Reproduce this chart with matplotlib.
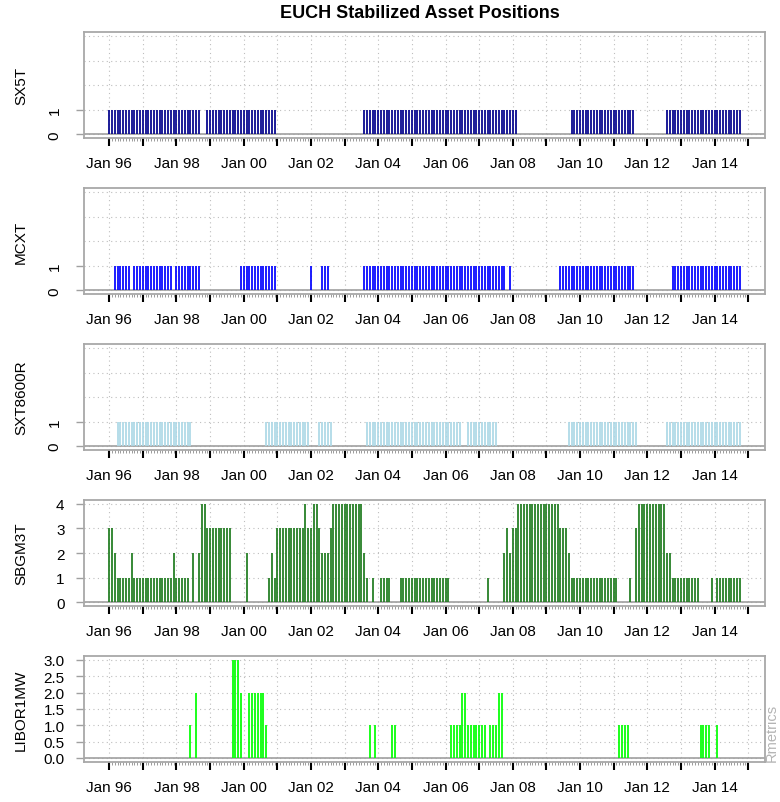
import numpy as np
import pandas as pd
import matplotlib
matplotlib.use("Agg")
import matplotlib.pyplot as plt
from matplotlib.ticker import FixedLocator

plt.rcParams['font.family'] = ['Liberation Sans', 'DejaVu Sans']

title = "EUCH Stabilized Asset Positions"
start, end = "1996-01", "2014-10"
assets = ["SX5T", "MCXT", "SXT8600R", "SBGM3T", "LIBOR1MW"]
colors = ["#00008B", "#0000FF", "#ADD8E6", "#1E7B1E", "#00FF00"]

# runs of non-zero positions: (first month, last month, value)
sx5t_runs = [("1996-01", "1998-09", 1), ("1998-12", "2000-12", 1),
             ("2003-08", "2008-02", 1), ("2009-10", "2011-08", 1),
             ("2012-08", "2014-10", 1)]
mcxt_runs = [("1996-03", "1996-08", 1), ("1996-10", "1997-11", 1),
             ("1998-01", "1998-09", 1), ("1999-12", "2000-12", 1),
             ("2002-01", "2002-01", 1), ("2002-05", "2002-07", 1),
             ("2003-08", "2007-10", 1), ("2007-12", "2007-12", 1),
             ("2009-06", "2011-08", 1), ("2012-10", "2014-10", 1)]
sxt8600r_runs = [("1996-04", "1998-06", 1), ("2000-09", "2001-12", 1),
                 ("2002-04", "2002-08", 1), ("2003-09", "2006-06", 1),
                 ("2006-09", "2007-07", 1), ("2009-09", "2011-09", 1),
                 ("2012-08", "2014-10", 1)]
sbgm3t_runs = [("1996-01", "1996-02", 3), ("1996-03", "1996-03", 2),
               ("1996-04", "1996-08", 1), ("1996-09", "1996-09", 2),
               ("1996-10", "1997-11", 1), ("1997-12", "1997-12", 2),
               ("1998-01", "1998-05", 1), ("1998-07", "1998-07", 2),
               ("1998-09", "1998-09", 2), ("1998-10", "1998-11", 4),
               ("1998-12", "1999-08", 3), ("2000-02", "2000-02", 2),
               ("2000-10", "2000-10", 1), ("2000-11", "2000-11", 2),
               ("2000-12", "2000-12", 1), ("2001-01", "2001-10", 3),
               ("2001-11", "2001-11", 4), ("2001-12", "2002-01", 3),
               ("2002-02", "2002-03", 4), ("2002-04", "2002-04", 3),
               ("2002-05", "2002-07", 2), ("2002-08", "2002-08", 3),
               ("2002-09", "2003-07", 4), ("2003-08", "2003-08", 2),
               ("2003-09", "2003-09", 1), ("2003-11", "2003-11", 1),
               ("2004-02", "2004-05", 1), ("2004-09", "2006-02", 1),
               ("2007-04", "2007-04", 1), ("2007-10", "2007-10", 2),
               ("2007-11", "2007-11", 3), ("2007-12", "2007-12", 2),
               ("2008-01", "2008-02", 3), ("2008-03", "2009-05", 4),
               ("2009-06", "2009-08", 3), ("2009-09", "2009-09", 2),
               ("2009-10", "2011-02", 1), ("2011-07", "2011-07", 1),
               ("2011-09", "2011-09", 3), ("2011-10", "2012-07", 4),
               ("2012-08", "2012-09", 2), ("2012-10", "2013-07", 1),
               ("2013-12", "2013-12", 1), ("2014-02", "2014-10", 1)]
libor1mw_runs = [("1998-06", "1998-06", 1.0), ("1998-08", "1998-08", 2.0),
                 ("1999-09", "1999-11", 3.0), ("1999-12", "1999-12", 2.0),
                 ("2000-03", "2000-08", 2.0), ("2000-09", "2000-09", 1.0),
                 ("2003-10", "2003-10", 1.0), ("2003-12", "2003-12", 1.0),
                 ("2004-06", "2004-07", 1.0), ("2006-03", "2006-06", 1.0),
                 ("2006-07", "2006-08", 2.0), ("2006-09", "2007-03", 1.0),
                 ("2007-05", "2007-07", 1.0), ("2007-08", "2007-09", 2.0),
                 ("2011-03", "2011-06", 1.0), ("2013-08", "2013-11", 1.0),
                 ("2014-02", "2014-02", 1.0)]
all_runs = [sx5t_runs, mcxt_runs, sxt8600r_runs, sbgm3t_runs, libor1mw_runs]

ytick_sets = [[0, 1], [0, 1], [0, 1], [0, 1, 2, 3, 4],
              [0, 0.5, 1, 1.5, 2, 2.5, 3]]
ygrid_sets = [[0, 1, 2, 3, 4]] * 4 + [[0, 0.5, 1, 1.5, 2, 2.5, 3]]
ytick_labels = [["0", "1"], ["0", "1"], ["0", "1"],
                ["0", "1", "2", "3", "4"],
                ["0.0", "0.5", "1.0", "1.5", "2.0", "2.5", "3.0"]]
ymaxes = [4, 4, 4, 4, 3]
rotate_labels = [True, True, True, False, False]

p0 = pd.Period(start, "M")
months = pd.period_range(start, end, freq="M")
x = np.arange(len(months))


def build(runs):
    s = pd.Series(0.0, index=months)
    for a, b, v in runs:
        s[pd.Period(a, "M"):pd.Period(b, "M")] = v
    return s


def midx(p):
    return (pd.Period(p, "M") - p0).n


years = list(range(1996, 2016))
major_pos = [midx(f"{y}-01") for y in years]
major_lab = [f"Jan {str(y)[2:]}" if (y - 1996) % 2 == 0 and y < 2015 else "" for y in years]
minor_pos = list(range(0, midx("2015-01") + 1))

W, H = 780, 803
fig = plt.figure(figsize=(W / 100, H / 100), dpi=100)
left, right = 84, 765
pheight = 106
tops = [33.3 + 155.9 * i for i in range(5)]
span = x[-1] - x[0]
xlim = (x[0] - 0.04 * span, x[-1] + 0.04 * span)

grid_kw = dict(color="#BEBEBE", lw=0.8, linestyle=(0, (1, 3)), zorder=0)

for i, (name, runs, col) in enumerate(zip(assets, all_runs, colors)):
    ax = fig.add_axes([left / W, 1 - (tops[i] + pheight) / H,
                       (right - left) / W, pheight / H])
    vals = build(runs).values
    ymax = ymaxes[i]
    ax.set_xlim(*xlim)
    ax.set_ylim(-0.04 * ymax, ymax * 1.04)
    for g in ygrid_sets[i]:
        ax.axhline(g, **grid_kw)
    for p in major_pos:
        ax.axvline(p, **grid_kw)
    ax.axhline(0, color="#A0A0A0", lw=1.2, zorder=1)
    nz = vals != 0
    ax.vlines(x[nz], 0, vals[nz], colors=col, lw=1.25, zorder=2)
    for sp in ax.spines.values():
        sp.set_color("#A8A8A8")
        sp.set_linewidth(1.3)
    ax.xaxis.set_major_locator(FixedLocator(major_pos))
    ax.set_xticklabels(major_lab)
    ax.xaxis.set_minor_locator(FixedLocator(minor_pos))
    ax.tick_params(axis="x", which="major", direction="out", length=6,
                   width=1.5, color="black", pad=7, labelsize=11)
    ax.tick_params(axis="x", which="minor", direction="out", length=2.4,
                   width=0.6, color="#8C8C8C")
    ax.set_yticks(ytick_sets[i])
    ax.set_yticklabels(ytick_labels[i])
    if rotate_labels[i]:
        ax.tick_params(axis="y", direction="out", length=6, width=1.0,
                       color="#A0A0A0", pad=10, labelsize=11)
        for t in ax.get_yticklabels():
            t.set_rotation(90)
            t.set_va("center")
    else:
        ax.tick_params(axis="y", direction="out", length=6, width=1.0,
                       color="#A0A0A0", pad=8, labelsize=11)
    ax.set_ylabel(name, fontsize=11)
    ax.yaxis.set_label_coords((28 - left) / (right - left), 0.5)

fig.text(420 / W, 1 - 14 / H, title, ha="center", va="center",
         fontsize=13, fontweight="bold")
fig.text(779 / W, 1 - 762 / H, "Rmetrics", rotation=90, ha="right",
         va="bottom", fontsize=10.5, color="#B4B4B4")

fig.savefig("out.png", dpi=100)
